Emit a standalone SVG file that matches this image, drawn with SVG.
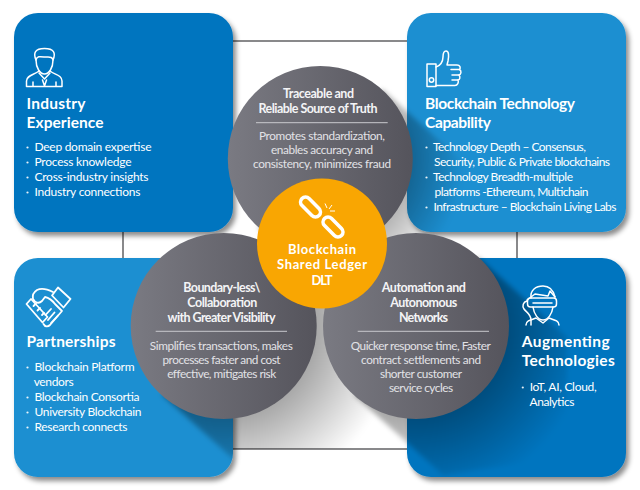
<svg xmlns="http://www.w3.org/2000/svg" width="640" height="490" viewBox="0 0 640 490">
<style>
text{font-family:"Lato","Open Sans","Liberation Sans",sans-serif;fill:#fff}
.h{font-size:15.5px;font-weight:700}
.b{font-size:12px}
.ct{font-size:12.5px;font-weight:700;text-anchor:middle;fill:#f4f4f6}
.cb{font-size:11.8px;text-anchor:middle;fill:#e2e2e6}
.o{font-size:13px;font-weight:700;text-anchor:middle}
.d{fill:#fff;opacity:.9}
.i{fill:none;stroke:#fff;stroke-width:1.5;stroke-linejoin:round;stroke-linecap:round}
.r{fill:none;stroke:#c9c9ce;stroke-width:1}
.k{fill:#0075bf}.l{fill:#1a8fd1}
.p{filter:url(#ds)}
.c{fill:none;stroke:#58585a;stroke-width:1.4}
</style>
<defs>
<filter id="ds" x="-10%" y="-10%" width="125%" height="125%"><feDropShadow dx="3" dy="4" stdDeviation="2.5" flood-color="#000" flood-opacity=".45"/></filter>
<filter id="bl" x="-10%" y="-10%" width="120%" height="120%"><feGaussianBlur stdDeviation="2.500"/></filter>
<linearGradient id="g" x1="0" y1="0" x2="1" y2="0"><stop offset="0" stop-color="#7a7a82"/><stop offset="1" stop-color="#55545c"/></linearGradient>
<radialGradient id="s1" gradientUnits="userSpaceOnUse" cx="320" cy="158" r="145"><stop offset=".62" stop-color="#000" stop-opacity=".3"/><stop offset="1" stop-color="#000" stop-opacity="0"/></radialGradient>
<radialGradient id="s2" gradientUnits="userSpaceOnUse" cx="224" cy="326" r="175"><stop offset=".5" stop-color="#000" stop-opacity=".36"/><stop offset="1" stop-color="#000" stop-opacity="0"/></radialGradient>
<radialGradient id="s3" gradientUnits="userSpaceOnUse" cx="416" cy="326" r="175"><stop offset=".5" stop-color="#000" stop-opacity=".36"/><stop offset="1" stop-color="#000" stop-opacity="0"/></radialGradient>
<clipPath id="cp">
<rect x="123" y="41" width="394" height="408"/>
<rect x="14" y="13" width="219" height="219" rx="24"/>
<rect x="407" y="13" width="219" height="219" rx="24"/>
<rect x="14" y="258" width="219" height="219" rx="24"/>
<rect x="407" y="258" width="219" height="219" rx="24"/>
</clipPath>
</defs>
<g id="connectors"><rect class="c" x="123" y="41" width="394" height="408"/></g>
<rect class="p k" x="14" y="13" width="219" height="219" rx="24"/>
<rect class="p l" x="407" y="13" width="219" height="219" rx="24"/>
<rect class="p l" x="14" y="258" width="219" height="219" rx="24"/>
<rect class="p k" x="407" y="258" width="219" height="219" rx="24"/>
<g id="shadows" clip-path="url(#cp)">
<path d="M382 89L471 169V249L320 320L258 227Z" fill="url(#s1)" filter="url(#bl)"/>
<path d="M286 257L375 337V457L251 475L162 395Z" fill="url(#s2)" filter="url(#bl)"/>
<path d="M478 257L567 337V457L443 475L354 395Z" fill="url(#s3)" filter="url(#bl)"/>
</g>
<g id="industry">
<g class="i">
<path d="M36 60C33 53 35 48.500 44.500 48.500C54 48.500 56 53 53 60"/>
<path d="M36 60C36 68 40 74 44.500 74C49 74 53 68 53 60C52 56 49 57.500 44.500 57C40 56.500 37 56 36 60Z"/>
<path d="M39 71C34 75 26.500 75 26.500 81V86.500H62V81C62 75 55 75 50 71"/>
<path d="M39 73L44.500 79L50 73M42.500 80L44.500 86M46.500 80L44.500 86M33 82V86M56 82V86"/>
</g>
<text class="h" x="26.500" y="109" textLength="59">Industry</text>
<text class="h" x="26.500" y="128" textLength="77">Experience</text>
<circle class="d" cx="27.500" cy="147.500" r="1.100"/><text class="b" x="34.500" y="151" textLength="117">Deep domain expertise</text>
<circle class="d" cx="27.500" cy="162.500" r="1.100"/><text class="b" x="34.500" y="166" textLength="97">Process knowledge</text>
<circle class="d" cx="27.500" cy="177.500" r="1.100"/><text class="b" x="34.500" y="181" textLength="114">Cross-industry insights</text>
<circle class="d" cx="27.500" cy="192.500" r="1.100"/><text class="b" x="34.500" y="196" textLength="106">Industry connections</text>
</g>
<g id="capability">
<g class="i">
<rect x="427" y="64" width="9" height="22.500"/>
<circle cx="431.500" cy="80" r="2.200"/>
<path d="M436 67C440 66 443 62 443 57C443 53 444 51 446 51C449 51 449 56 448 61L447 65H457C460 65 461 68 459.500 69.500C462 71 461 74.500 459 75C460.500 77 460 79.500 458 80C459 82.500 457.500 85.500 455 85.500H436"/>
<path d="M451 69.500H459.500M452 75H459M452 80H458"/>
</g>
<text class="h" x="425" y="109" textLength="150">Blockchain Technology</text>
<text class="h" x="425" y="128" textLength="66">Capability</text>
<circle class="d" cx="426.500" cy="147.500" r="1.100"/><text class="b" x="433" y="151" textLength="153">Technology Depth – Consensus,</text>
<text class="b" x="434" y="166" textLength="176">Security, Public &amp; Private blockchains</text>
<circle class="d" cx="426.500" cy="177.500" r="1.100"/><text class="b" x="433" y="181" textLength="140">Technology Breadth-multiple</text>
<text class="b" x="434.500" y="196" textLength="154">platforms -Ethereum, Multichain</text>
<circle class="d" cx="426.500" cy="207.500" r="1.100"/><text class="b" x="433.500" y="211" textLength="183">Infrastructure – Blockchain Living Labs</text>
</g>
<g id="partnerships">
<g class="i" style="stroke-width:1.800">
<path d="M58 287.500L70.500 299L63.500 307.500L52 295.500Z"/>
<path d="M26.500 304L31 299L47.500 317L42.500 322.500Z"/>
<path d="M53 292C47 289 41 288 37 290C34 292 32 295 33 299C35 303 39 304 42 301L45 297C50 298 52 300 55 304L62 311L50 325C48 327 45 327 43.500 324"/>
<path d="M33.500 306L36 303.500M37.500 310.500L40 308M42 315L44 313"/>
<path d="M51 309L45.500 315M54.500 312.500L48 320M58 315.500L51 323"/>
</g>
<text class="h" x="26.500" y="347" textLength="89">Partnerships</text>
<circle class="d" cx="27.500" cy="367.500" r="1.100"/><text class="b" x="34.500" y="371" textLength="100">Blockchain Platform</text>
<text class="b" x="33.700" y="386" textLength="40">vendors</text>
<circle class="d" cx="27.500" cy="397.500" r="1.100"/><text class="b" x="34.500" y="401" textLength="105">Blockchain Consortia</text>
<circle class="d" cx="27.500" cy="412.500" r="1.100"/><text class="b" x="34.500" y="416" textLength="107">University Blockchain</text>
<circle class="d" cx="27.500" cy="427.500" r="1.100"/><text class="b" x="34.500" y="431" textLength="93">Research connects</text>
</g>
<g id="augmenting">
<g class="i">
<path d="M531 298C530 290 536 286 543 286C549 286 553 289 555 297"/>
<path d="M527 300L535 294L548 296L550 291L555 297"/>
<rect x="527.500" y="298" width="29" height="9" rx="3"/>
<path d="M533 303H552"/>
<path d="M533 307C534 314 538 320 543 320C548 320 552 314 553 307"/>
<path d="M527 301C523 302 522 306 524 309C526 312 531 314 531 320V325"/>
<path d="M526 325C526 321 530 320 536 318L543 323L549 318C555 320 559 321 559 325"/>
</g>
<text class="h" x="521.700" y="347" textLength="88">Augmenting</text>
<text class="h" x="521.700" y="366" textLength="93">Technologies</text>
<circle class="d" cx="522.800" cy="387.500" r="1.100"/><text class="b" x="529.700" y="391" textLength="67">IoT, AI, Cloud,</text>
<text class="b" x="529.500" y="406" textLength="45">Analytics</text>
</g>
<g id="traceable">
<circle cx="320.300" cy="158.500" r="92.500" fill="url(#g)"/>
<text class="ct" x="318.500" y="98" textLength="71">Traceable and</text>
<text class="ct" x="318" y="112.700" textLength="119">Reliable Source of Truth</text>
<path class="r" d="M256 122.700H387.700"/>
<text class="cb" x="322" y="140" textLength="126">Promotes standardization,</text>
<text class="cb" x="322" y="154" textLength="102">enables accuracy and</text>
<text class="cb" x="322" y="167.500" textLength="138">consistency, minimizes fraud</text>
</g>
<g id="boundary">
<circle cx="223.700" cy="326" r="93" fill="url(#g)"/>
<text class="ct" x="221.800" y="291.700" textLength="77">Boundary-less\</text>
<text class="ct" x="222.300" y="307" textLength="70">Collaboration</text>
<text class="ct" x="221.500" y="322" textLength="108">with Greater Visibility</text>
<path class="r" d="M155.700 331.300H287"/>
<text class="cb" x="221.300" y="350.300" textLength="143">Simplifies transactions, makes</text>
<text class="cb" x="221.500" y="364" textLength="118">processes faster and cost</text>
<text class="cb" x="221.700" y="378" textLength="109">effective, mitigates risk</text>
</g>
<g id="automation">
<circle cx="416" cy="326" r="93" fill="url(#g)"/>
<text class="ct" x="423.800" y="291.700" textLength="84">Automation and</text>
<text class="ct" x="423.700" y="307" textLength="67">Autonomous</text>
<text class="ct" x="423.500" y="322" textLength="49">Networks</text>
<path class="r" d="M357.700 331.300H489"/>
<text class="cb" x="420.700" y="350.300" textLength="140">Quicker response time, Faster</text>
<text class="cb" x="421" y="364" textLength="120">contract settlements and</text>
<text class="cb" x="421" y="378" textLength="82">shorter customer</text>
<text class="cb" x="421" y="392" textLength="64">service cycles</text>
</g>
<g id="ledger">
<circle cx="322" cy="243.500" r="65" fill="#f9a602"/>
<g fill="none" stroke="#fff" stroke-width="3.600">
<rect x="298.500" y="202" width="24" height="10" rx="5" transform="rotate(45 310.500 207)"/>
<rect x="321" y="222" width="24" height="10" rx="5" transform="rotate(45 333 227)"/>
</g>
<path d="M325 203.500L327 208M332 205L329 209M335 211L330 211" fill="none" stroke="#fff" stroke-width="1"/>
<text class="o" x="322" y="254" textLength="68">Blockchain</text>
<text class="o" x="322" y="269.300" textLength="90">Shared Ledger</text>
<text class="o" x="322" y="285" textLength="21">DLT</text>
</g>
</svg>
